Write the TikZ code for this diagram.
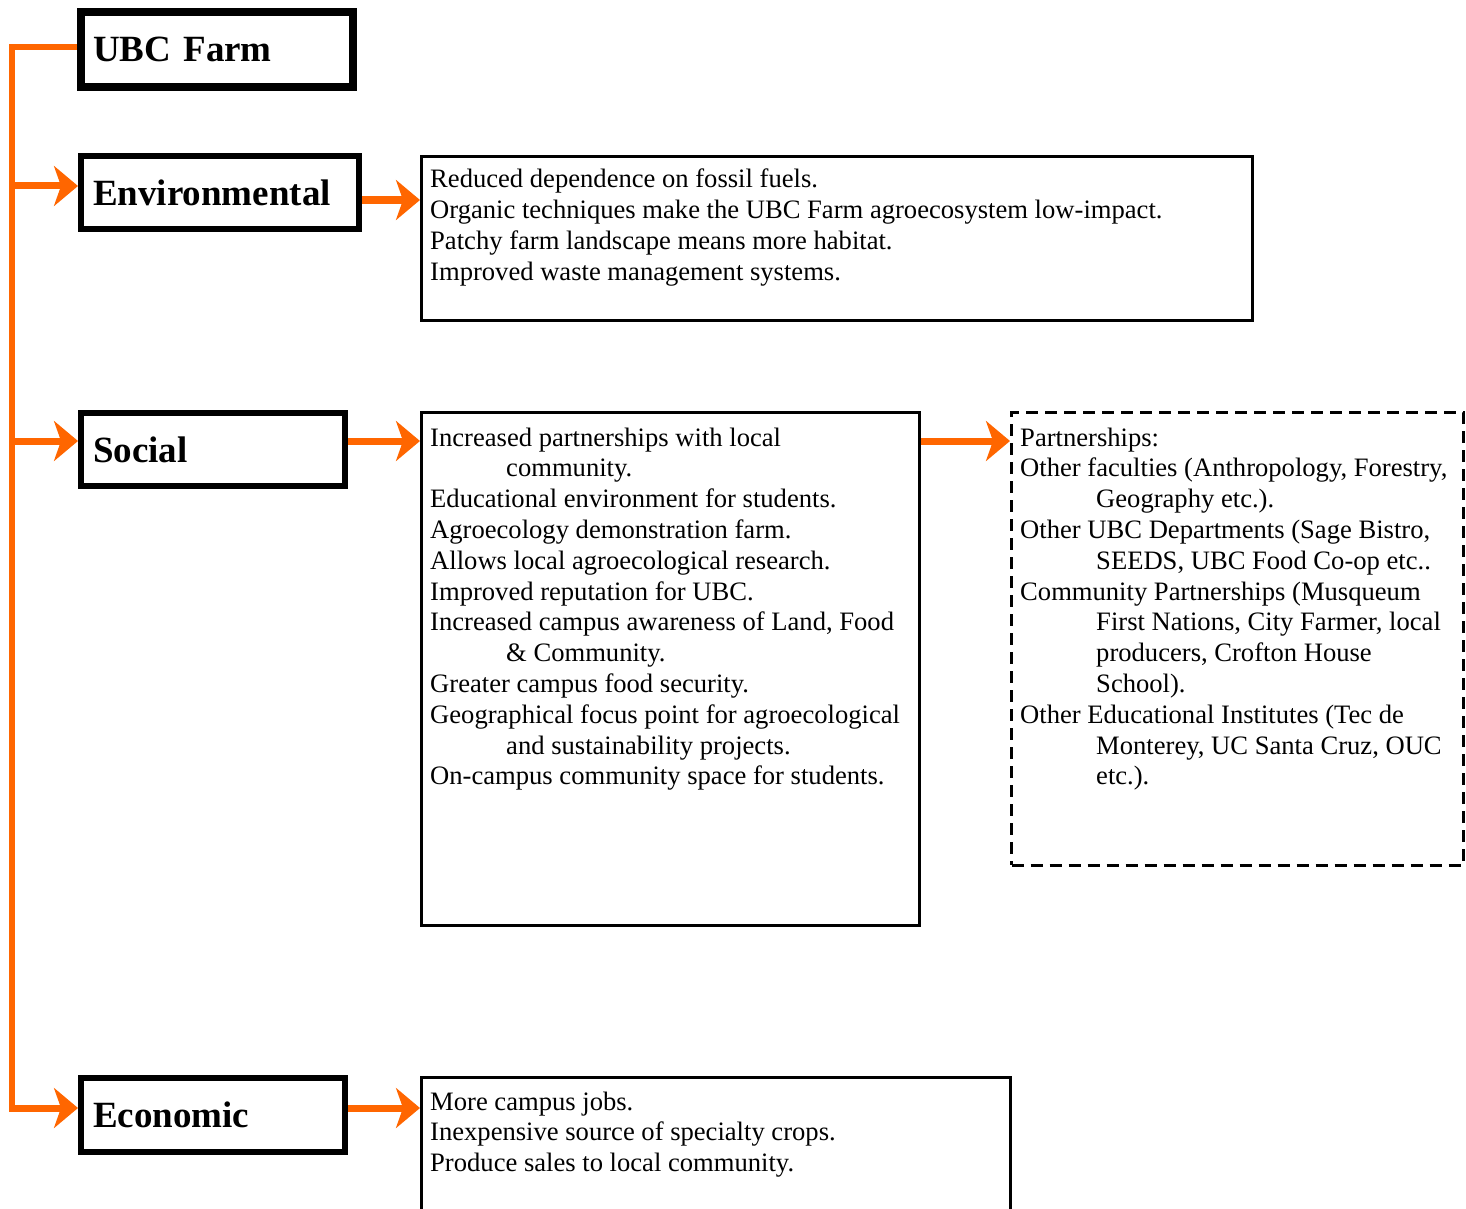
\documentclass[tikz,border=0pt]{standalone}
\usepackage{fontspec}
\setmainfont{Liberation Serif}
\usetikzlibrary{arrows.meta}
\definecolor{farmorange}{RGB}{255,102,0}
\tikzset{
  titlebox/.style={draw=black, line width=6pt, inner xsep=12pt, inner ysep=0pt, align=left,
    font=\fontsize{37}{44}\selectfont\bfseries, minimum height=73pt},
  contentbox/.style={draw=black, line width=3pt, inner sep=0pt},
  dashbox/.style={draw=black, line width=3pt, inner sep=0pt, dash pattern=on 12pt off 7pt},
  bodytext/.style={anchor=base west, inner sep=0pt, font=\fontsize{26.6}{30.8}\selectfont},
  oline/.style={draw=farmorange, line width=6pt},
  oarrow/.style={draw=farmorange, line width=7pt, -{Stealth[length=24pt,width=40pt,inset=7pt]}},
}
\newcommand{\ind}{\hspace*{76pt}}
\begin{document}
\begin{tikzpicture}[x=1pt,y=-1pt]
\useasboundingbox (0,0) rectangle (1466,1209);
\clip (0,0) rectangle (1466,1209);
% title boxes
\node[titlebox, line width=8pt, text width=248pt, minimum height=75pt] (ubc) at (217,49.5) {UBC Farm};
\node[titlebox, text width=254pt] (env) at (220,192.5) {Environmental};
\node[titlebox, text width=240pt] (soc) at (213,449.5) {Social};
\node[titlebox, text width=240pt, minimum height=74pt] (eco) at (213,1115) {Economic};
% content boxes
\node[contentbox, minimum width=830.5pt, minimum height=163.5pt] (envbox) at (836.75,238.25) {};
\node[contentbox, minimum width=498pt, minimum height=512.5pt] (socbox) at (670.5,668.75) {};
\node[dashbox, minimum width=451.5pt, minimum height=453pt] (partbox) at (1237.25,638.5) {};
\node[contentbox, minimum width=589pt, minimum height=182.5pt] (ecobox) at (716,1168.75) {};
% texts
\node[bodytext] (envtext) at (430,188) {\parbox[t]{820pt}{\raggedright
Reduced dependence on fossil fuels.\\
Organic techniques make the UBC Farm agroecosystem low-impact.\\
Patchy farm landscape means more habitat.\\
Improved waste management systems.}};
\node[bodytext] (soctext) at (430,446) {\parbox[t]{600pt}{\raggedright
Increased partnerships with local\\
\ind community.\\
Educational environment for students.\\
Agroecology demonstration farm.\\
Allows local agroecological research.\\
Improved reputation for UBC.\\
Increased campus awareness of Land, Food\\
\ind \& Community.\\
Greater campus food security.\\
Geographical focus point for agroecological\\
\ind and sustainability projects.\\
On-campus community space for students.}};
\node[bodytext] (parttext) at (1020,446) {\parbox[t]{600pt}{\raggedright
Partnerships:\\
Other faculties (Anthropology, Forestry,\\
\ind Geography etc.).\\
Other UBC Departments (Sage Bistro,\\
\ind SEEDS, UBC Food Co-op etc..\\
Community Partnerships (Musqueum\\
\ind First Nations, City Farmer, local\\
\ind producers, Crofton House\\
\ind School).\\
Other Educational Institutes (Tec de\\
\ind Monterey, UC Santa Cruz, OUC\\
\ind etc.).}};
\node[bodytext] (ecotext) at (430,1110) {\parbox[t]{600pt}{\raggedright
More campus jobs.\\
Inexpensive source of specialty crops.\\
Produce sales to local community.}};
% spine
\coordinate (spinetop) at (12,47);
\coordinate (envin) at ([yshift=6.5pt]env.west);
\coordinate (socin) at ([yshift=8.5pt]soc.west);
\coordinate (ecoin) at ([yshift=7pt]eco.west);
\draw[oline] ([yshift=2.5pt]ubc.west) -- (spinetop) -- (spinetop |- ecoin);
\draw[oarrow] ([xshift=-3pt]spinetop |- envin) -- (envin);
\draw[oarrow] ([xshift=-3pt]spinetop |- socin) -- (socin);
\draw[oarrow] ([xshift=-3pt]spinetop |- ecoin) -- (ecoin);
% right arrows
\coordinate (envmid) at (0,200);
\coordinate (socmid) at (0,441);
\coordinate (ecomid) at (0,1108);
\draw[oarrow] (env.east |- envmid) -- (envbox.west |- envmid);
\draw[oarrow] (soc.east |- socmid) -- (socbox.west |- socmid);
\draw[oarrow] (socbox.east |- socmid) -- (partbox.west |- socmid);
\draw[oarrow] (eco.east |- ecomid) -- (ecobox.west |- ecomid);
\end{tikzpicture}
\end{document}
